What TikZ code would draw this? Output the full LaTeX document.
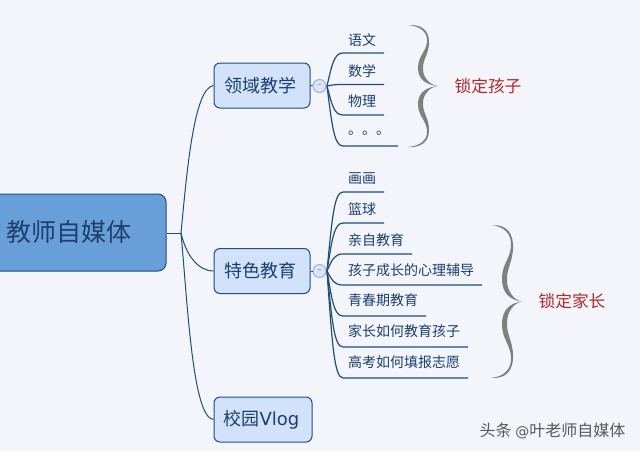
\documentclass[tikz,border=0pt]{standalone}
\usepackage{fontspec}
\setmainfont{Noto Sans CJK SC}
\newfontfamily\latinfont{DejaVu Sans}
\definecolor{bgcol}{HTML}{F3F5FB}
\definecolor{linecol}{HTML}{1F4E79}
\definecolor{rootcol}{HTML}{699FD9}
\definecolor{topiccol}{HTML}{D2E2FB}
\definecolor{foldcol}{HTML}{DBE5F6}
\definecolor{textcol}{HTML}{1C3F6E}
\definecolor{notecol}{HTML}{B02A2A}
\tikzset{
	rootbox/.style={draw=linecol,line width=1pt,fill=rootcol,rounded corners=8pt,minimum height=77pt,inner sep=0pt},
	topicbox/.style={draw=linecol,line width=1pt,fill=topiccol,rounded corners=6pt,text=textcol,font=\fontsize{18}{18}\selectfont,minimum width=96pt,minimum height=45pt,inner sep=0pt},
	foldmark/.style={circle,draw=foldcol!80!blue!80!gray,line width=1pt,fill=foldcol,minimum size=13pt,inner sep=0pt,text=black!55,font=\fontsize{8}{8}\selectfont},
	leaftext/.style={anchor=west,text=textcol,inner sep=0pt,font=\fontsize{14}{14}\selectfont},
	notetext/.style={text=notecol,inner sep=0pt,font=\fontsize{16.7}{17}\selectfont},
	branch/.style={draw=linecol,line width=1pt},
	leafline/.style={draw=linecol,line width=1.2pt},
}
\newcommand{\graybrace}[3]{% x-left, y-midt, y-scale
	\foreach \s in {1,-1}{
		\fill[black!50,shift={(#1,#2)},yscale=\s*#3] (0,-61) .. controls (14,-62) and (22,-55) .. (21,-42)
			.. controls (20,-30) and (14.5,-27) .. (15,-16) .. controls (15.5,-8) and (22,-1) .. (30,0)
			.. controls (19,-1) and (10,-6) .. (10,-18) .. controls (10,-30) and (18,-34) .. (19,-44)
			.. controls (20,-54) and (12,-60) .. (0,-61) -- cycle;
	}
}
\begin{document}
\begin{tikzpicture}[x=1pt,y=-1pt]
	\fill[bgcol] (0,0) rectangle (640,451);
	\useasboundingbox (0,0) rectangle (640,451);
	% Rot
	\begin{scope}
		\clip (0,0) rectangle (640,451);
		\node[rootbox,minimum width=186pt] (root) at (73,232.5) {};
	\end{scope}
	\node[text=textcol,inner sep=0pt,font=\fontsize{25}{25}\selectfont] (roottext) at (69,232) {教师自媒体};
	% Emner
	\node[topicbox] (area) at (262,85.5) {领域教学\kern4pt};
	\node[topicbox] (special) at (262,271) {特色教育\kern4pt};
	\node[topicbox,minimum width=98pt] (vlog) at (263,419.5) {校园{\latinfont Vlog}\kern3pt};
	\coordinate (hub) at (181,233);
	\draw[branch] (root.east |- hub) -- (hub);
	\draw[branch] (hub) .. controls (187,170) and (194,88) .. (area.west);
	\draw[branch] (hub) .. controls (186,255) and (198,271) .. (special.west);
	\draw[branch] (hub) .. controls (188,310) and (193,418) .. (vlog.west);
	\node[foldmark] (foldA) at (319.5,86) {–};
	\node[foldmark] (foldB) at (319.5,271) {–};
	\draw[branch] (area.east) -- (foldA);
	\draw[branch] (special.east) -- (foldB);
	% Blader, gruppe 1
	\coordinate (hubA) at (327,86);
	\draw[branch] (foldA) -- (hubA);
	\foreach \name/\txt/\ty/\ly/\lx in {a/语文/40/53/384,b/数学/71/84.5/384,c/物理/101/115/384,d/。。。/133/146/398}{
		\node[leaftext] (leaf\name) at (348,\ty) {\txt};
		\coordinate (end\name) at (\lx,\ly);
		\draw[leafline] (hubA) .. controls (332,{\ly+(86-\ly)*0.35}) and (334,\ly) .. (343,\ly) -- (end\name);
	}
	% Blader, gruppe 2
	\coordinate (hubB) at (327,271);
	\draw[branch] (foldB) -- (hubB);
	\foreach \name/\txt/\ty/\ly/\lx in {e/画画/179/192/384,f/篮球/209/223/384,g/亲自教育/240/254/412,h/孩子成长的心理辅导/270/285/482,i/青春期教育/300/316/426,j/家长如何教育孩子/331/347/468,k/高考如何填报志愿/362/378/468}{
		\node[leaftext] (leaf\name) at (348,\ty) {\txt};
		\coordinate (end\name) at (\lx,\ly);
		\draw[leafline] (hubB) .. controls (332,{\ly+(271-\ly)*0.35}) and (334,\ly) .. (343,\ly) -- (end\name);
	}
	% Klammer
	\graybrace{408}{86}{1}
	\graybrace{492}{301.5}{1.25}
	\node[notetext] (noteA) at (488,86) {锁定孩子};
	\node[notetext] (noteB) at (572,301) {锁定家长};
	% Vannmerke
	\node[text=black!65,inner sep=0pt,font=\fontsize{16}{16}\selectfont] (mark) at (552.5,431) {头条 {\latinfont\fontsize{14}{14}\selectfont @}叶老师自媒体};
\end{tikzpicture}
\end{document}
